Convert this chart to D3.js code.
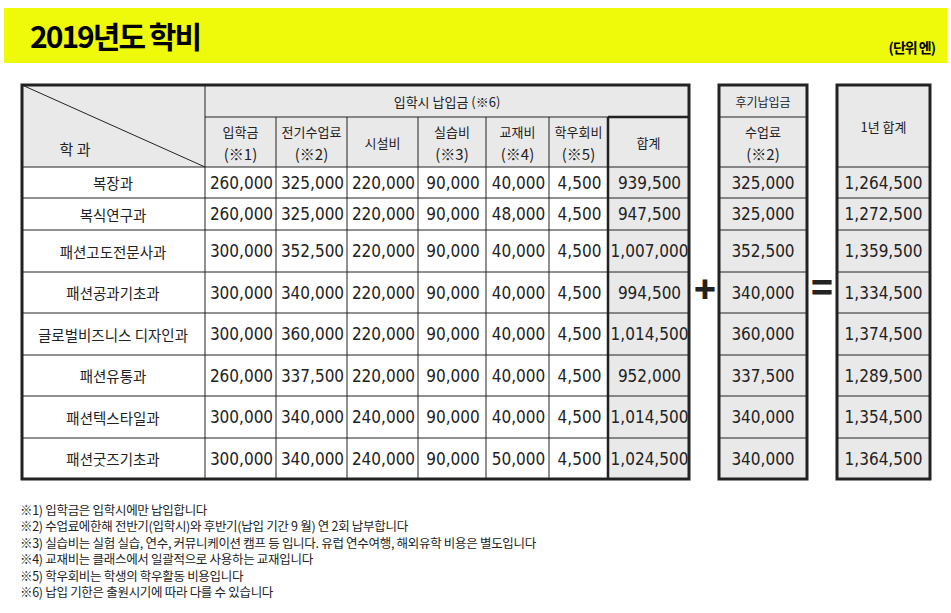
<!DOCTYPE html>
<html><head><meta charset="utf-8">
<script src="https://cdn.jsdelivr.net/npm/d3@7"></script>
<style>body{margin:0;background:#fff}text{font-family:"Noto Sans CJK KR","Noto Sans",sans-serif}.num{font-family:"Liberation Sans Narrow","DejaVu Sans Condensed","Noto Sans",sans-serif}</style>
</head><body><svg id="c" width="951" height="613"></svg>
<script>
const depts = ["복장과","복식연구과","패션고도전문사과","패션공과기초과","글로벌비즈니스 디자인과","패션유통과","패션텍스타일과","패션굿즈기초과"];
const entrance = [260000,260000,300000,300000,300000,260000,300000,300000];
const tuition1 = [325000,325000,352500,340000,360000,337500,340000,340000];
const facility = [220000,220000,220000,220000,220000,220000,240000,240000];
const practice = [90000,90000,90000,90000,90000,90000,90000,90000];
const material = [40000,48000,40000,40000,40000,40000,40000,50000];
const union = [4500,4500,4500,4500,4500,4500,4500,4500];
const subtotal = [939500,947500,1007000,994500,1014500,952000,1014500,1024500];
const tuition2 = [325000,325000,352500,340000,360000,337500,340000,340000];
const yearTotal = [1264500,1272500,1359500,1334500,1374500,1289500,1354500,1364500];
const colHeads = [["입학금","(※1)"],["전기수업료","(※2)"],["시설비"],["실습비","(※3)"],["교재비","(※4)"],["학우회비","(※5)"],["합계"]];
const notes = ["※1) 입학금은 입학시에만 납입합니다","※2) 수업료에한해 전반기(입학시)와 후반기(납입 기간 9 월) 연 2회 납부합니다","※3) 실습비는 실험 실습, 연수, 커뮤니케이션 캠프 등 입니다. 유럽 연수여행, 해외유학 비용은 별도입니다","※4) 교재비는 클래스에서 일괄적으로 사용하는 교재입니다","※5) 학우회비는 학생의 학우활동 비용입니다","※6) 납입 기한은 출원시기에 따라 다를 수 있습니다"];

const svg = d3.select("#c");
const fmt = d3.format(",");
const gray = "#e9e9e9";

// title band
svg.append("rect").attr("x",4).attr("y",8).attr("width",943).attr("height",55).attr("fill","#eefa0a");
svg.append("text").attr("x",30).attr("y",48).attr("font-size",30).attr("font-weight",700).attr("letter-spacing",-2).text("2019년도 학비");
svg.append("text").attr("x",935).attr("y",53).attr("text-anchor","end").attr("font-size",14).attr("font-weight",700).attr("letter-spacing",-1).text("(단위 엔)");

// row boundaries
const rowEdges = [167,198,230,272,313,355,396,438,479];
const hTop = 85, hMid = 117, hBot = 167;
const colEdges = [22,205,276,347,418,486,549,608,689];
const rowMid = i => (rowEdges[i] + rowEdges[i+1]) / 2;
const line = (x1,y1,x2,y2,w=1) => svg.append("line").attr("x1",x1).attr("y1",y1).attr("x2",x2).attr("y2",y2).attr("stroke","#222").attr("stroke-width",w);
const txt = (x,y,s,sz=14,anchor="middle") => svg.append("text").attr("x",x).attr("y",y).attr("text-anchor",anchor).attr("dominant-baseline","central").attr("font-size",sz).attr("fill","#222").text(s);
const num = (x,y,s) => txt(x,y,s,17).attr("class","num");

// fills
svg.append("rect").attr("x",22).attr("y",hTop).attr("width",667).attr("height",hBot-hTop).attr("fill",gray);
svg.append("rect").attr("x",608).attr("y",hBot).attr("width",81).attr("height",479-hBot).attr("fill",gray);

// main grid
rowEdges.forEach(y => line(22,y,689,y));
line(205,hMid,689,hMid);
colEdges.forEach((x,i) => line(x, i<2||i===8 ? hTop : hMid, x, 479));
line(608,hMid,608,479,2.5);
line(608,hMid,689,hMid,2.5);
svg.append("rect").attr("x",22).attr("y",hTop).attr("width",667).attr("height",479-hTop).attr("fill","none").attr("stroke","#222").attr("stroke-width",3);
line(22,hTop,205,hBot);
txt(75,148,"학 과",15);
txt(447,101,"입학시 납입금  (※6)",13);
colHeads.forEach((h,j) => {
  const cx = (colEdges[j+1]+colEdges[j+2])/2;
  if (h.length === 1) txt(cx,142,h[0],13);
  else { txt(cx,131,h[0],13); txt(cx,153,h[1],15); }
});
const mainCols = [entrance,tuition1,facility,practice,material,union,subtotal];
depts.forEach((d,i) => {
  txt(113,rowMid(i),d,14.5);
  mainCols.forEach((arr,j) => num((colEdges[j+1]+colEdges[j+2])/2 + 1, rowMid(i), fmt(arr[i])));
});

// side boxes
function box(x0,x1,vals,head){
  svg.append("rect").attr("x",x0).attr("y",hTop).attr("width",x1-x0).attr("height",479-hTop).attr("fill",gray);
  rowEdges.forEach(y => line(x0,y,x1,y));
  if (head.top) { line(x0,hMid,x1,hMid); txt((x0+x1)/2,101,head.top,12); txt((x0+x1)/2,131,head.a,13); txt((x0+x1)/2,153,head.b,15); }
  else txt((x0+x1)/2,126,head.a,13);
  svg.append("rect").attr("x",x0).attr("y",hTop).attr("width",x1-x0).attr("height",479-hTop).attr("fill","none").attr("stroke","#222").attr("stroke-width",3);
  vals.forEach((v,i) => num((x0+x1)/2,rowMid(i),fmt(v)));
}
box(719,807,tuition2,{top:"후기납입금",a:"수업료",b:"(※2)"});
box(837,930,yearTotal,{a:"1년 합계"});
txt(705,287,"+",36).attr("font-weight",900);
txt(822,285,"=",36).attr("font-weight",900);

// footnotes
notes.forEach((n,i) => txt(20,509+i*16.5,n,12.5,"start").attr("letter-spacing",-0.3));
</script></body></html>
